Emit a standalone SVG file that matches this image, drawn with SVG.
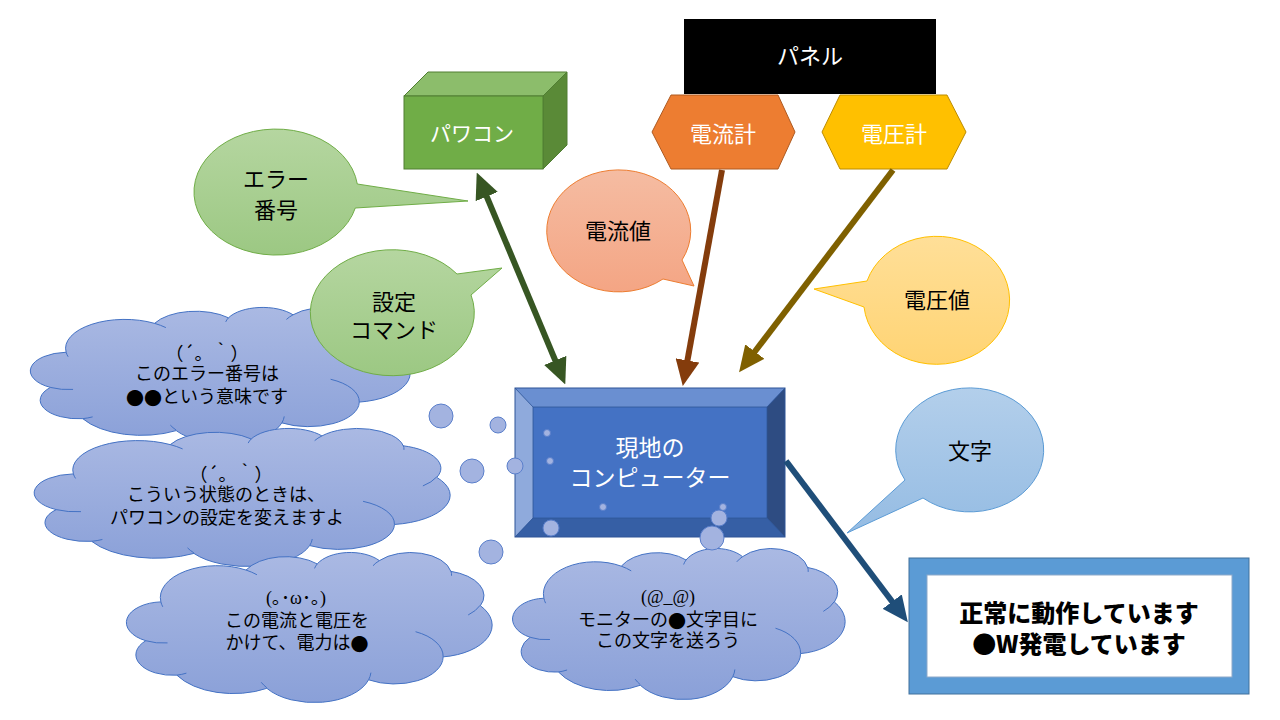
<svg xmlns="http://www.w3.org/2000/svg" xmlns:xlink="http://www.w3.org/1999/xlink" width="1280" height="720" viewBox="0 0 1280 720">
<style>
.jp{font-family:"Noto Sans CJK JP","Noto Sans",sans-serif;text-anchor:middle;dominant-baseline:central}
.w{fill:#ffffff;font-size:22px}
.b{fill:#000000;font-size:22px}
.ct{font-family:"Liberation Serif","Noto Sans CJK JP",serif;font-size:18px;fill:#000;text-anchor:middle;dominant-baseline:central}
.cj{font-family:"Noto Sans CJK JP",sans-serif}
.co{fill:url(#gCloud);stroke:#4472C4;stroke-width:1}
.ci{fill:none;stroke:#4472C4;stroke-width:1}
.dot{fill:#A3B3E0;stroke:#5A7FCB;stroke-width:1}
.ln{fill:none;stroke-width:6}
</style>
<defs>
<linearGradient id="gCloud" x1="0" y1="0" x2="0" y2="1"><stop offset="0" stop-color="#AAB9E3"/><stop offset="1" stop-color="#8AA0D8"/></linearGradient>
<linearGradient id="gGreen" x1="0" y1="0" x2="0" y2="1"><stop offset="0" stop-color="#B5D6A0"/><stop offset="1" stop-color="#9CC883"/></linearGradient>
<linearGradient id="gSalmon" x1="0" y1="0" x2="0" y2="1"><stop offset="0" stop-color="#F5BCA2"/><stop offset="1" stop-color="#F4A584"/></linearGradient>
<linearGradient id="gYellow" x1="0" y1="0" x2="0" y2="1"><stop offset="0" stop-color="#FFDF98"/><stop offset="1" stop-color="#FFD474"/></linearGradient>
<linearGradient id="gBlue" x1="0" y1="0" x2="0" y2="1"><stop offset="0" stop-color="#B3CFEB"/><stop offset="1" stop-color="#95BCE3"/></linearGradient>
<path id="cloudO" vector-effect="non-scaling-stroke" d="M9.03,33.26 A15.63,21.27 0 0,1 32.42,12.04 A12.34,16.82 0 0,1 51.98,7.94 A10.10,13.76 0 0,1 69.06,5.74 A11.24,15.27 0 0,1 88.70,12.90 A12.34,16.84 0 0,1 96.80,35.79 A15.68,21.34 0 0,1 86.58,69.91 A13.39,18.21 0 0,1 66.10,85.21 A15.63,21.33 0 0,1 38.15,90.89 A17.87,24.41 0 0,1 13.43,82.11 A10.09,13.70 0 0,1 4.89,59.14 A10.06,13.76 0 0,1 9.03,33.26 Z"/>
<path id="cloudI" vector-effect="non-scaling-stroke" d="M10.86,60.60 A10.06,13.76 0 0,1 4.89,59.14 M16.04,80.78 A10.09,13.70 0 0,1 13.43,82.11 M38.14,90.49 A15.63,21.33 0 0,1 36.60,86.86 M66.73,80.44 A15.63,21.33 0 0,1 66.10,85.21 M79.00,53.13 A13.39,18.21 0 0,1 86.58,69.91 M96.75,35.54 A12.34,16.84 0 0,1 93.45,41.98 M88.71,12.56 A11.24,15.27 0 0,1 88.88,15.83 M67.31,9.15 A11.24,15.27 0 0,1 69.06,5.74 M51.25,10.93 A10.10,13.76 0 0,1 51.98,7.94 M32.41,12.02 A15.63,21.27 0 0,1 35.42,15.15 M9.55,36.55 A15.63,21.27 0 0,1 9.03,33.26"/>
<marker id="mGreen" markerUnits="userSpaceOnUse" markerWidth="26" markerHeight="24" viewBox="0 0 26 24" refX="3" refY="12" orient="auto-start-reverse"><path d="M0,0 L26,12 L0,24 Z" fill="#375623"/></marker>
<marker id="mBrown" markerUnits="userSpaceOnUse" markerWidth="26" markerHeight="24" viewBox="0 0 26 24" refX="3" refY="12" orient="auto"><path d="M0,0 L26,12 L0,24 Z" fill="#843C0C"/></marker>
<marker id="mOlive" markerUnits="userSpaceOnUse" markerWidth="26" markerHeight="24" viewBox="0 0 26 24" refX="3" refY="12" orient="auto"><path d="M0,0 L26,12 L0,24 Z" fill="#7F6000"/></marker>
<marker id="mNavy" markerUnits="userSpaceOnUse" markerWidth="26" markerHeight="24" viewBox="0 0 26 24" refX="3" refY="12" orient="auto"><path d="M0,0 L26,12 L0,24 Z" fill="#1F4E79"/></marker>
</defs>
<rect width="1280" height="720" fill="#ffffff"/>

<!-- clouds -->
<g id="cloud1">
<g transform="translate(32,307) scale(3.78,1.36)"><use href="#cloudO" class="co"/><use href="#cloudI" class="ci"/></g>
<text class="ct cj" x="207" y="352">（´。｀）</text>
<text class="ct" x="207" y="374">このエラー番号は</text>
<text class="ct" x="207" y="397"><tspan class="cj">●●</tspan>という意味です</text>
</g>
<g id="cloud2">
<g transform="translate(36,428) scale(4.14,1.38)"><use href="#cloudO" class="co"/><use href="#cloudI" class="ci"/></g>
<text class="ct cj" x="231" y="473">（´。｀）</text>
<text class="ct" x="226" y="495">こういう状態のときは、</text>
<text class="ct" x="227" y="518">パワコンの設定を変えますよ</text>
</g>
<g id="cloud3">
<g transform="translate(128,552) scale(3.64,1.50)"><use href="#cloudO" class="co"/><use href="#cloudI" class="ci"/></g>
<text class="ct" x="296" y="598">(｡･ω･｡)</text>
<text class="ct" x="297" y="621">この電流と電圧を</text>
<text class="ct" x="297" y="643">かけて、電力は<tspan class="cj">●</tspan></text>
</g>
<g id="cloud4">
<g transform="translate(514,548) scale(3.31,1.51)"><use href="#cloudO" class="co"/><use href="#cloudI" class="ci"/></g>
<text class="ct" x="668" y="597">(@_@)</text>
<text class="ct" x="668" y="620">モニターの<tspan class="cj">●</tspan>文字目に</text>
<text class="ct" x="668" y="641">この文字を送ろう</text>
</g>

<!-- speech bubbles -->
<g id="bubble-error">
<path d="M357.3,184 A82,63 0 1,0 355.3,208 L468,201 Z" fill="url(#gGreen)" stroke="#70AD47" stroke-width="1"/>
<text class="jp b" x="276" y="177">エラー</text>
<text class="jp b" x="276" y="208">番号</text>
</g>
<g id="bubble-setting">
<path d="M457,274 A82,63 0 1,0 471,295 L502,268 Z" fill="url(#gGreen)" stroke="#70AD47" stroke-width="1"/>
<text class="jp b" x="394" y="300">設定</text>
<text class="jp b" x="394" y="328">コマンド</text>
</g>
<g id="bubble-current">
<path d="M682,260 A72,61 0 1,0 663,279 L694,286 Z" fill="url(#gSalmon)" stroke="#ED7D31" stroke-width="1"/>
<text class="jp b" x="618" y="229">電流値</text>
</g>
<g id="bubble-voltage">
<path d="M867,281 A73,64 0 1,1 864,307 L814,289 Z" fill="url(#gYellow)" stroke="#FFC000" stroke-width="1"/>
<text class="jp b" x="937" y="298">電圧値</text>
</g>
<g id="bubble-char">
<path d="M905,480 A74,62 0 1,1 923,498 L847,533 Z" fill="url(#gBlue)" stroke="#5B9BD5" stroke-width="1"/>
<text class="jp b" x="970" y="449">文字</text>
</g>

<!-- panel -->
<g id="panel">
<rect x="684" y="19" width="252" height="75" fill="#000000"/>
<text class="jp w" x="810" y="54">パネル</text>
</g>
<g id="ammeter">
<polygon points="652,132 671,95 778,95 795,132 778,169 671,169" fill="#ED7D31" stroke="#AE5A21" stroke-width="1"/>
<text class="jp w" x="723" y="132">電流計</text>
</g>
<g id="voltmeter">
<polygon points="822,132 840,95 947,95 966,132 947,169 840,169" fill="#FFC000" stroke="#BC8C00" stroke-width="1"/>
<text class="jp w" x="894" y="132">電圧計</text>
</g>
<g id="powercon">
<polygon points="404,96 428,72 567,72 543,96" fill="#8CBD6B" stroke="#507E32" stroke-width="1"/>
<polygon points="543,96 567,72 567,145 543,169" fill="#5A8A37" stroke="#507E32" stroke-width="1"/>
<rect x="404" y="96" width="139" height="73" fill="#70AD47" stroke="#507E32" stroke-width="1"/>
<text class="jp w" x="472" y="132" style="font-size:21px">パワコン</text>
</g>

<!-- computer -->
<g id="computer">
<rect x="515" y="388" width="270" height="149" fill="#4472C4"/>
<polygon points="515,388 785,388 767,407 533,407" fill="#6A8FD1"/>
<polygon points="515,388 533,407 533,518 515,537" fill="#8FAADC"/>
<polygon points="785,388 785,537 767,518 767,407" fill="#2E4C82"/>
<polygon points="515,537 533,518 767,518 785,537" fill="#365FA5"/>
<rect x="515" y="388" width="270" height="149" fill="none" stroke="#2F5597" stroke-width="1"/>
<path d="M515,388 L533,407 L767,407 L785,388 M533,407 L533,518 L767,518 L767,407 M515,537 L533,518 M785,537 L767,518" fill="none" stroke="#2F5597" stroke-width="0.8"/>
<text class="jp w" x="650" y="446" style="font-size:23px">現地の</text>
<text class="jp w" x="650" y="476" style="font-size:23px">コンピューター</text>
</g>

<!-- thought dots -->
<g id="thought-dots">
<circle class="dot" cx="441" cy="416" r="12"/>
<circle class="dot" cx="498" cy="425" r="8"/>
<circle class="dot" cx="472" cy="471" r="12"/>
<circle class="dot" cx="515" cy="466" r="8"/>
<circle class="dot" cx="491" cy="552" r="12"/>
<circle class="dot" cx="547" cy="433" r="3.5"/>
<circle class="dot" cx="550" cy="461" r="3.5"/>
<circle class="dot" cx="603" cy="507" r="3.5"/>
<circle class="dot" cx="723" cy="507" r="3.5"/>
<circle class="dot" cx="719" cy="518" r="8"/>
<circle class="dot" cx="712" cy="538" r="12"/>
<circle class="dot" cx="551" cy="528" r="8"/>
</g>

<!-- display -->
<g id="display">
<rect x="909" y="558" width="340" height="136" fill="#5B9BD5" stroke="#41719C" stroke-width="1"/>
<rect x="927" y="575" width="305" height="102" fill="#ffffff" stroke="#8EA9C9" stroke-width="1"/>
<text class="jp" x="1079" y="611" style="font-size:24px;font-weight:900;fill:#000">正常に動作しています</text>
<text class="jp" x="1079" y="642" style="font-size:24px;font-weight:900;fill:#000">●W発電しています</text>
</g>

<!-- connectors -->
<g id="connectors">
<line class="ln" x1="485.6" y1="193.8" x2="556.4" y2="363.2" stroke="#375623" marker-start="url(#mGreen)" marker-end="url(#mGreen)"/>
<line class="ln" x1="722" y1="170" x2="686.9" y2="363.4" stroke="#843C0C" marker-end="url(#mBrown)"/>
<line class="ln" x1="893" y1="170" x2="753" y2="354" stroke="#7F6000" marker-end="url(#mOlive)"/>
<line class="ln" x1="786" y1="461" x2="894" y2="604" stroke="#1F4E79" marker-end="url(#mNavy)"/>
</g>
</svg>
